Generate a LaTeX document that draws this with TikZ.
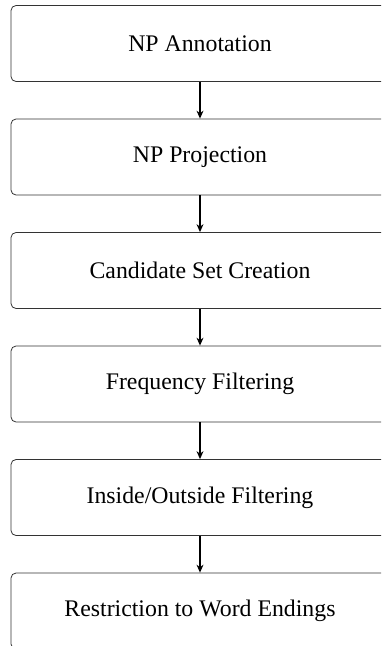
\documentclass[tikz,border=0pt]{standalone}
\usepackage{fontspec}
\setmainfont{Liberation Serif}
\usetikzlibrary{arrows.meta}
\begin{document}
\begin{tikzpicture}[x=1pt,y=-1pt,
  stagebox/.style={draw=black!80, line width=0.8pt, rounded corners=5pt,
    minimum width=378pt, minimum height=76pt, inner sep=0pt,
    font=\fontsize{23.8}{28}\selectfont},
  flow/.style={-{Stealth[length=8pt,width=7pt]}, line width=1.1pt, black}]
\useasboundingbox (0,0) rectangle (381,646);
\clip (0,0) rectangle (381,646);
\node[stagebox] (a) at (200,43.5) {NP Annotation};
\node[stagebox] (b) at (200,157) {NP Projection};
\node[stagebox] (c) at (200,270.5) {Candidate Set Creation};
\node[stagebox] (d) at (200,384) {Frequency Filtering};
\node[stagebox] (e) at (200,497.5) {Inside/Outside Filtering};
\node[stagebox] (f) at (200,611) {Restriction to Word Endings};
\draw[flow] (a) -- (b);
\draw[flow] (b) -- (c);
\draw[flow] (c) -- (d);
\draw[flow] (d) -- (e);
\draw[flow] (e) -- (f);
\end{tikzpicture}
\end{document}
